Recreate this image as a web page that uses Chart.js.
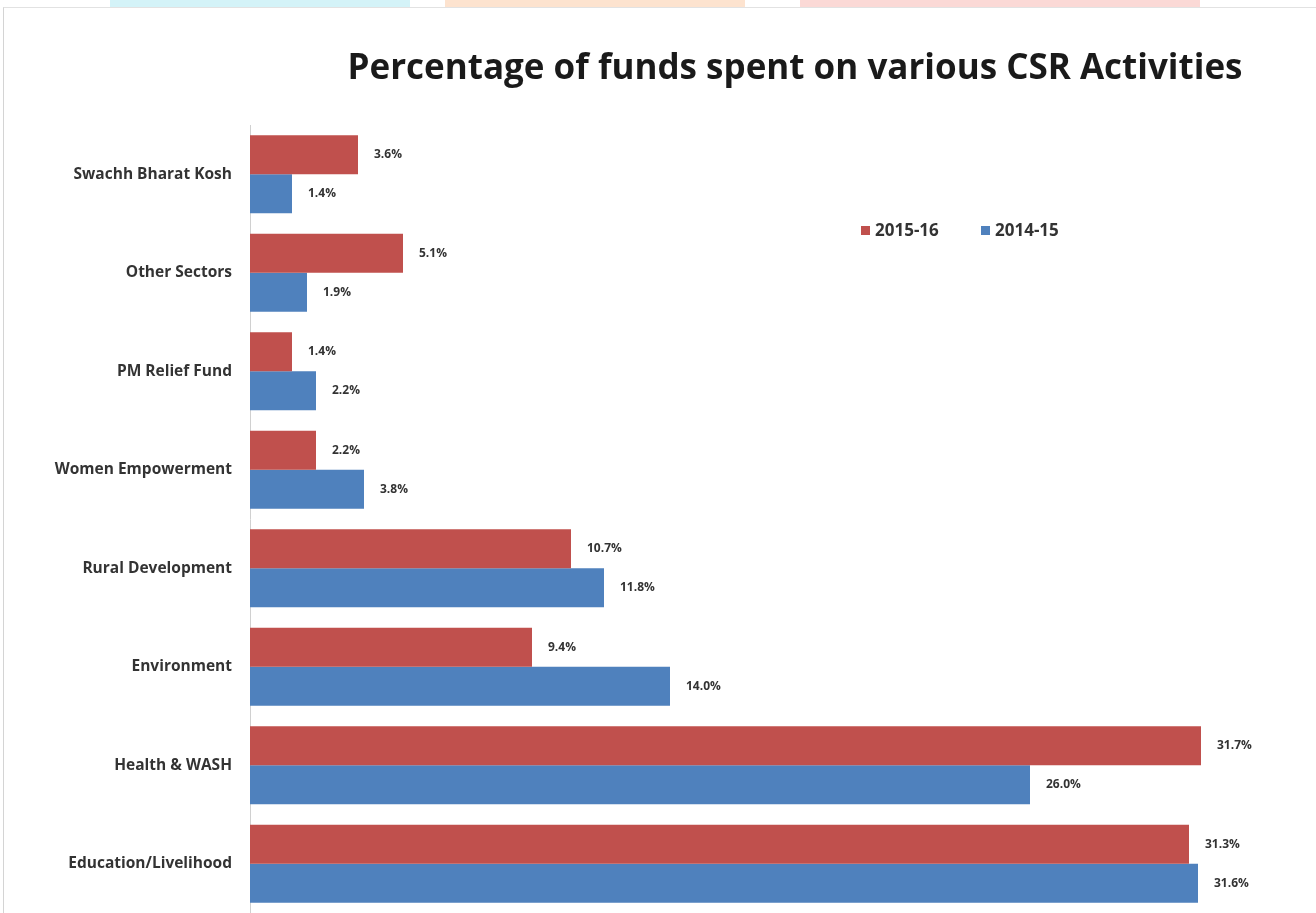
<!DOCTYPE html>
<html lang="en">
<head>
    <meta charset="UTF-8">
    <title>CSR Activities</title>
    <script src="https://cdn.jsdelivr.net/npm/chart.js"></script>
    <style>
        body { margin: 0; background: #fff; }
        .page { position: relative; width: 1316px; height: 913px; overflow: hidden; }
        /* faint strip of the picture above the chart */
        .strip { position: absolute; top: 0; height: 7px; }
        .frame { position: absolute; left: 3px; top: 7px; right: 0; bottom: 0;
                 border-left: 1px solid #d4d4d4; border-top: 1px solid #e2e2e2; }
        #csr-chart { position: absolute; left: 0; top: 0; }
    </style>
</head>
<body>
    <div class="page">
        <div class="strip" style="left:110px;width:300px;background:#d4f3f8"></div>
        <div class="strip" style="left:445px;width:300px;background:#fde3cf"></div>
        <div class="strip" style="left:800px;width:400px;background:#fbd9d6"></div>
        <div class="frame"></div>
        <canvas id="csr-chart" width="1316" height="913"></canvas>
    </div>

    <script>
        const categories = ['Swachh Bharat Kosh', 'Other Sectors', 'PM Relief Fund', 'Women Empowerment',
            'Rural Development', 'Environment', 'Health & WASH', 'Education/Livelihood'];
        const seriesNames = ['2015-16', '2014-15'];
        const values2015 = [3.6, 5.1, 1.4, 2.2, 10.7, 9.4, 31.7, 31.3];
        const values2014 = [1.4, 1.9, 2.2, 3.8, 11.8, 14.0, 26.0, 31.6];
        const chartTitle = 'Percentage of funds spent on various CSR Activities';

        const RED = '#C0504D';
        const BLUE = '#4F81BD';
        const FONT = "'Open Sans', 'Noto Sans', sans-serif";

        // value labels at the end of each bar
        const barLabels = {
            id: 'barLabels',
            afterDatasetsDraw(chart) {
                const ctx = chart.ctx;
                ctx.save();
                ctx.font = 'bold 12px ' + FONT;
                ctx.fillStyle = '#333';
                ctx.textAlign = 'left';
                ctx.textBaseline = 'middle';
                chart.data.datasets.forEach((ds, i) => {
                    chart.getDatasetMeta(i).data.forEach((bar, j) => {
                        ctx.fillText(ds.data[j].toFixed(1) + '%', bar.x + 16, bar.y);
                    });
                });
                ctx.restore();
            }
        };

        // title is a bit right of the plot centre in the original
        const topTitle = {
            id: 'topTitle',
            afterDraw(chart) {
                const ctx = chart.ctx;
                const area = chart.chartArea;
                ctx.save();
                ctx.font = 'bold 35px ' + FONT;
                ctx.fillStyle = '#1a1a1a';
                ctx.textAlign = 'center';
                ctx.textBaseline = 'middle';
                ctx.fillText(chartTitle, (area.left + area.right) / 2 + 20, area.top - 56);
                ctx.restore();
            }
        };

        // legend sits inside the plot, top right
        const innerLegend = {
            id: 'innerLegend',
            afterDraw(chart) {
                const ctx = chart.ctx;
                const area = chart.chartArea;
                let x = area.left + 611;
                const y = area.top + 106;
                ctx.save();
                ctx.font = 'bold 17px ' + FONT;
                ctx.textBaseline = 'middle';
                ctx.textAlign = 'left';
                chart.data.datasets.forEach(ds => {
                    ctx.fillStyle = ds.backgroundColor;
                    ctx.fillRect(x, y - 5, 9, 9);
                    ctx.fillStyle = '#333';
                    ctx.fillText(ds.label, x + 14, y);
                    x += 120;
                });
                ctx.restore();
            }
        };

        const ctx = document.getElementById('csr-chart').getContext('2d');
        new Chart(ctx, {
            type: 'bar',
            data: {
                labels: categories,
                datasets: [
                    { label: seriesNames[0], data: values2015, backgroundColor: RED },
                    { label: seriesNames[1], data: values2014, backgroundColor: BLUE }
                ]
            },
            options: {
                indexAxis: 'y',
                responsive: false,
                animation: false,
                categoryPercentage: 0.79,
                barPercentage: 1.0,
                layout: { padding: { left: 0, right: 16, top: 125, bottom: 0 } },
                scales: {
                    x: {
                        display: false,
                        min: 0,
                        max: 35
                    },
                    y: {
                        afterFit(scale) {
                            scale.width = 250;
                            // plot runs to the bottom edge of the picture
                            scale.paddingTop = 0;
                            scale.paddingBottom = 0;
                        },
                        grid: { display: false, drawTicks: false },
                        border: { display: true, color: '#d0d0d0', width: 1 },
                        ticks: {
                            padding: 18,
                            color: '#333',
                            font: { family: FONT, size: 15.5, weight: 'bold' }
                        }
                    }
                },
                plugins: {
                    legend: { display: false },
                    tooltip: { enabled: false },
                    title: { display: false }
                }
            },
            plugins: [barLabels, topTitle, innerLegend]
        });
    </script>
</body>
</html>
